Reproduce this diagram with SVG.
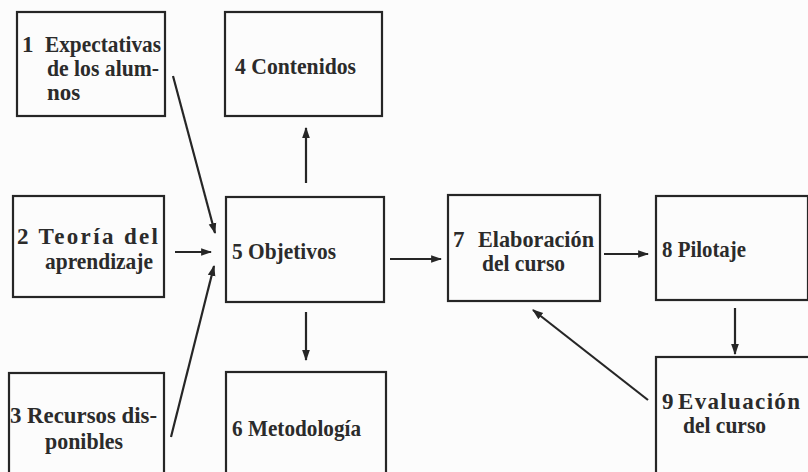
<svg xmlns="http://www.w3.org/2000/svg" width="808" height="472" viewBox="0 0 808 472">
<style>
.box{fill:none;stroke:#262626;stroke-width:2.2}
.t{font-family:"Liberation Serif","Times New Roman",serif;font-size:23px;font-weight:bold;fill:#2b2b2b}
.c{fill:none;stroke:#262626;stroke-width:2.2}
</style>
<defs>
<marker id="ah" viewBox="0 0 10 10" refX="9" refY="5" markerWidth="5" markerHeight="5" orient="auto" markerUnits="strokeWidth">
<path d="M0,1.5 L10,5 L0,8.5 Z" fill="#262626"/>
</marker>
</defs>
<rect x="0" y="0" width="808" height="472" fill="#fcfcfc"/>
<g id="n1"><rect class="box" x="17" y="12" width="148" height="104"/>
<text class="t" x="22" y="52">1</text><text class="t" x="45" y="52" textLength="116" lengthAdjust="spacingAndGlyphs">Expectativas</text>
<text class="t" x="47" y="76" textLength="112" lengthAdjust="spacingAndGlyphs">de  los alum-</text><text class="t" x="47" y="100">nos</text></g>
<g id="n4"><rect class="box" x="225" y="12" width="157" height="104"/>
<text class="t" x="235" y="74" textLength="121" lengthAdjust="spacingAndGlyphs">4 Contenidos</text></g>
<g id="n2"><rect class="box" x="13" y="196" width="151" height="101"/>
<text class="t" x="17" y="244" textLength="141">2 Teoría del</text>
<text class="t" x="45" y="269" textLength="108" lengthAdjust="spacingAndGlyphs">aprendizaje</text></g>
<g id="n5"><rect class="box" x="226" y="197" width="158" height="105"/>
<text class="t" x="232" y="259" textLength="104" lengthAdjust="spacingAndGlyphs">5 Objetivos</text></g>
<g id="n7"><rect class="box" x="448" y="195" width="152" height="106"/>
<text class="t" x="453" y="247">7</text><text class="t" x="478" y="247" textLength="116" lengthAdjust="spacingAndGlyphs">Elaboración</text>
<text class="t" x="482" y="271" textLength="83" lengthAdjust="spacingAndGlyphs">del curso</text></g>
<g id="n8"><rect class="box" x="656" y="196" width="152" height="104"/>
<text class="t" x="662" y="257" textLength="84" lengthAdjust="spacingAndGlyphs">8 Pilotaje</text></g>
<g id="n3"><rect class="box" x="9" y="373" width="155" height="120"/>
<text class="t" x="10" y="423" textLength="147" lengthAdjust="spacingAndGlyphs">3 Recursos dis-</text>
<text class="t" x="45" y="449" textLength="78" lengthAdjust="spacingAndGlyphs">ponibles</text></g>
<g id="n6"><rect class="box" x="226" y="372" width="160" height="120"/>
<text class="t" x="232" y="436" textLength="129" lengthAdjust="spacingAndGlyphs">6 Metodología</text></g>
<g id="n9"><rect class="box" x="656" y="357" width="160" height="130"/>
<text class="t" x="662" y="409">9</text><text class="t" x="678" y="409" textLength="122">Evaluación</text>
<text class="t" x="683" y="433" textLength="83" lengthAdjust="spacingAndGlyphs">del curso</text></g>
<g id="connectors">
<line class="c" x1="173" y1="76" x2="215" y2="233" marker-end="url(#ah)"/>
<line class="c" x1="175" y1="252" x2="211" y2="252" marker-end="url(#ah)"/>
<line class="c" x1="171" y1="437" x2="214" y2="266" marker-end="url(#ah)"/>
<line class="c" x1="306" y1="183" x2="306" y2="128" marker-end="url(#ah)"/>
<line class="c" x1="306" y1="312" x2="306" y2="360" marker-end="url(#ah)"/>
<line class="c" x1="390" y1="259" x2="441" y2="259" marker-end="url(#ah)"/>
<line class="c" x1="604" y1="254" x2="648" y2="254" marker-end="url(#ah)"/>
<line class="c" x1="735" y1="308" x2="735" y2="354" marker-end="url(#ah)"/>
<line class="c" x1="648" y1="400" x2="533" y2="310" marker-end="url(#ah)"/>
</g>
</svg>
